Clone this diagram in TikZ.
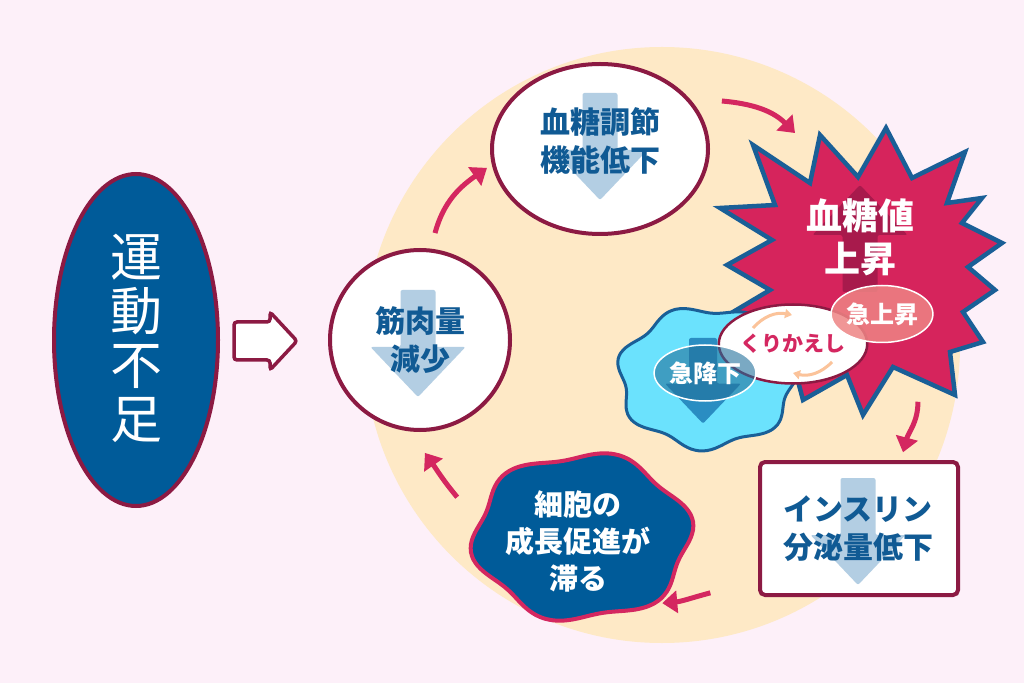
\documentclass[tikz,border=0pt]{standalone}
\usepackage{fontspec}
\newfontfamily\jp{Noto Sans CJK JP}
\usetikzlibrary{arrows.meta,calc,shapes.geometric}
\definecolor{blush}{RGB}{253,240,249}
\definecolor{cream}{RGB}{254,233,198}
\definecolor{wine}{RGB}{140,26,67}
\definecolor{deepblue}{RGB}{0,91,153}
\definecolor{inkblue}{RGB}{16,90,148}
\definecolor{rose}{RGB}{212,39,96}
\definecolor{starred}{RGB}{214,36,92}
\definecolor{starline}{RGB}{26,95,151}
\definecolor{darkrose}{RGB}{168,26,76}
\definecolor{paleblue}{RGB}{179,206,227}
\definecolor{aqua}{RGB}{107,226,253}
\definecolor{midblue}{RGB}{42,141,194}
\definecolor{salmon}{RGB}{238,132,132}
\definecolor{apricot}{RGB}{251,195,154}

\begin{document}
\begin{tikzpicture}[x=1pt,y=1pt,>=Latex]
  \tikzset{
    bubble/.style={ellipse,draw=wine,line width=4pt,fill=white,inner sep=0pt},
    tag/.style={ellipse,inner sep=0pt,text=white,draw=white,line width=1.5pt,
                text opacity=1,font=\jp\bfseries\fontsize{24}{28}\selectfont},
    lbl/.style={align=center,text=inkblue,font=\jp\bfseries\fontsize{30}{38}\selectfont},
    flow/.style={draw=rose,line width=5pt,-{Triangle[width=22pt,length=15pt]}},
    loopflow/.style={draw=apricot,line width=3pt,-{Triangle[width=9pt,length=7pt]}},
    pics/fatarrow/.style={code={
      \path[pic actions,rounded corners=2pt] (-17.5,0) -- (-17.5,-57) -- (-47.5,-57)
        -- (0,-107) -- (47.5,-57) -- (17.5,-57) -- (17.5,0) -- cycle;}}
  }
  \useasboundingbox (0,0) rectangle (1024,683);
  \fill[blush] (0,0) rectangle (1024,683);
  \fill[cream] (662,338) circle[radius=298];

  % cause
  \node[bubble,fill=deepblue,minimum width=164pt,minimum height=332pt] (cause) at (136,343) {};
  \node[align=center,text=white,font=\jp\fontsize{52}{54}\selectfont] (causeText) at (136,345) {運\\動\\不\\足};
  \filldraw[fill=white,draw=wine,line width=3.5pt,rounded corners=3pt]
    (234,361) -- (270,361) -- (270,371) -- (297,342) -- (270,313) -- (270,323) -- (234,323) -- cycle;

  % muscle
  \node[bubble,circle,minimum size=180pt] (muscle) at (420,343) {};
  \pic[fill=paleblue] at (418,393) {fatarrow};
  \node[lbl] (muscleText) at (420,343) {筋肉量\\減少};

  % glucose control
  \node[bubble,minimum width=216pt,minimum height=170pt] (gluc) at (600,534) {};
  \pic[fill=paleblue] at (600,590) {fatarrow};
  \node[lbl] (glucText) at (600,542) {血糖調節\\機能低下};

  % spike
  \coordinate (spike) at (862,415);
  \filldraw[fill=starred,draw=starline,line width=4.5pt]
    (886,555) -- (912,505) -- (965,531) -- (947,480) -- (982,485) -- (962,460)
    -- (1002,440) -- (968,416) -- (995,393) -- (963,371) -- (983,341) -- (950,331)
    -- (955,288) -- (893,316) -- (863,268) -- (847,308) -- (803,283) -- (795,313)
    -- (760,303) -- (765,348) -- (733,371) -- (770,393) -- (727,418) -- (772,443)
    -- (720,475) -- (775,478) -- (753,538) -- (810,500) -- (820,548) -- (858,506) -- cycle;
  \pic[fill=darkrose,rotate=180] at (860,391) {fatarrow};
  \node[align=center,text=white,font=\jp\bfseries\fontsize{36}{43}\selectfont] (rise) at (860,446) {血糖値\\上昇};

  % drop
  \coordinate (drop) at (707,305);
  \filldraw[fill=aqua,draw=starline,line width=3pt]
    plot[smooth cycle,domain=0:355,samples=72,variable=\t]
    ({707+87*(1+0.06*sin(7*\t+30))*cos(\t)},{305+69*(1+0.06*sin(7*\t+30))*sin(\t)});
  \pic[fill=midblue,scale=0.8] at (703,345) {fatarrow};

  % repeat
  \node[bubble,line width=2.5pt,minimum width=125pt,minimum height=79pt,text=rose,
        font=\jp\bfseries\fontsize{21}{24}\selectfont] (loop) at (793,339) {くりかえし};
  \draw[loopflow] ($(loop)+(-40,16)$) to[bend left=30] ($(loop)+(-1,29)$);
  \draw[loopflow] ($(loop)+(39,-18)$) to[bend left=30] ($(loop)+(0,-29)$);
  \node[tag,fill=midblue!80!black,fill opacity=0.6,minimum width=99pt,minimum height=56pt] (fall) at (705,310) {急降下};
  \node[tag,fill=salmon,fill opacity=0.85,minimum width=100pt,minimum height=57pt] (jump) at (882,369) {急上昇};

  % insulin
  \node[draw=wine,line width=4pt,fill=white,rounded corners=5pt,minimum width=198pt,minimum height=133pt] (insulin) at (859,154.5) {};
  \pic[fill=paleblue] at (858,205) {fatarrow};
  \node[lbl] (insulinText) at (858,154.5) {インスリン\\分泌量低下};

  % cells
  \coordinate (cells) at (582,146);
  \filldraw[fill=deepblue,draw=rose,line width=4pt]
    plot[smooth cycle,domain=0:355,samples=72,variable=\t]
    ({582+107*(1+0.055*sin(6*\t+20))*cos(\t)},{146+82*(1+0.055*sin(6*\t+20))*sin(\t)});
  \node[lbl,text=white,font=\jp\bfseries\fontsize{29}{37}\selectfont] (cellsText) at (578,142) {細胞の\\成長促進が\\滞る};

  % cycle
  \draw[flow] ($(muscle)+(82:108)$) to[out=75,in=215] ($(gluc)+(189.5:114.6)$);
  \draw[flow] ($(gluc)+(21.5:131)$) to[out=-5,in=135] ($(spike)+(116.4:150.7)$);
  \draw[flow] ($(spike)+(-67.3:145)$) to[out=-90,in=75] ($(insulin)+(60:88)$);
  \draw[flow] ($(insulin)+(203.4:162)$) to[out=195,in=5] ($(cells)+(-39.5:104)$);
  \draw[flow] ($(cells)+(162.3:131)$) to[out=130,in=-55] ($(muscle)+(-87.5:113)$);
\end{tikzpicture}
\end{document}
